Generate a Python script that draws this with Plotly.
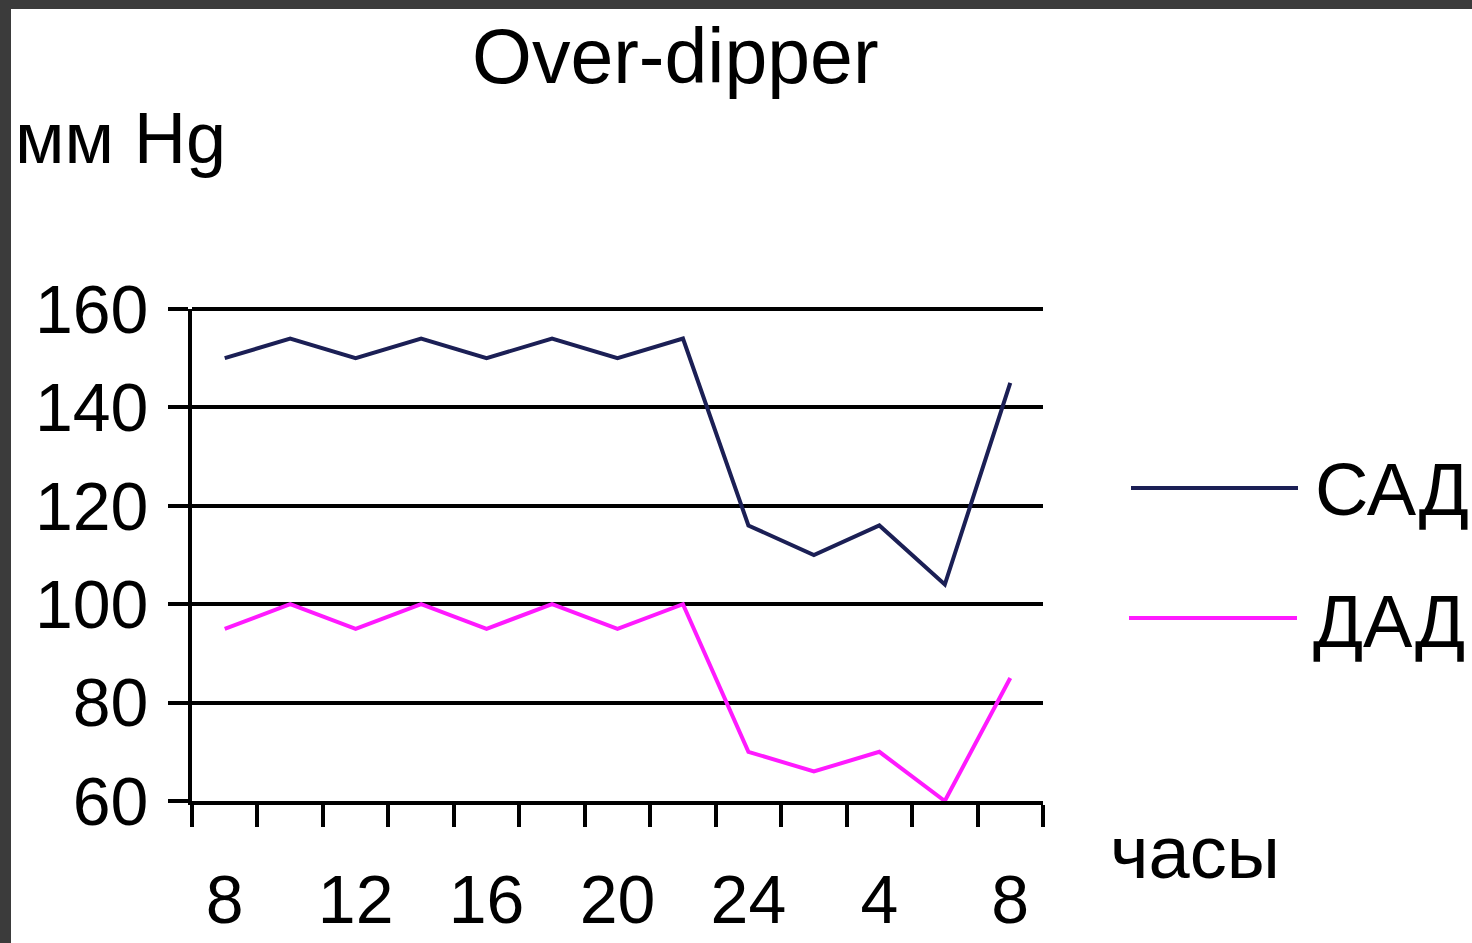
import plotly.graph_objects as go

# Hours of the day (two-hour steps, 8:00 to 8:00 next morning)
hours = [8, 10, 12, 14, 16, 18, 20, 22, 24, 2, 4, 6, 8]
# Systolic (САД) and diastolic (ДАД) blood pressure, mm Hg
sad = [150, 154, 150, 154, 150, 154, 150, 154, 116, 110, 116, 104, 145]
dad = [95, 100, 95, 100, 95, 100, 95, 100, 70, 66, 70, 60, 85]
y_ticks = [60, 80, 100, 120, 140, 160]

W, H = 1472, 943
L, R, T, B = 192, 1043, 309, 801  # plot area in pixels

def px(x):
    return (x - L) / (R - L)

def py(y):
    return (B - y) / (B - T)

idx = list(range(len(hours)))
SAD_COLOR = "#1b1f55"
DAD_COLOR = "#ff1aff"
FONT = "Liberation Sans, Arial, sans-serif"

fig = go.Figure()
fig.add_trace(go.Scatter(x=idx, y=sad, mode="lines", name="САД",
                         line=dict(color=SAD_COLOR, width=4)))
fig.add_trace(go.Scatter(x=idx, y=dad, mode="lines", name="ДАД",
                         line=dict(color=DAD_COLOR, width=4)))

shapes = [
    # dark frame strips
    dict(type="rect", xref="paper", yref="paper", x0=px(0), x1=px(11), y0=py(H), y1=py(0),
         fillcolor="#3b3b3b", line=dict(width=0), layer="above"),
    dict(type="rect", xref="paper", yref="paper", x0=px(0), x1=px(W), y0=py(9), y1=py(0),
         fillcolor="#3b3b3b", line=dict(width=0), layer="above"),
    # top gridline (upper end of the y range)
    dict(type="line", xref="paper", yref="paper", x0=0, x1=1, y0=1, y1=1,
         line=dict(color="black", width=4), layer="below"),
    # legend samples
    dict(type="line", xref="paper", yref="paper", x0=px(1131), x1=px(1298), y0=py(488), y1=py(488),
         line=dict(color=SAD_COLOR, width=4)),
    dict(type="line", xref="paper", yref="paper", x0=px(1129), x1=px(1297), y0=py(618), y1=py(618),
         line=dict(color=DAD_COLOR, width=4)),
]

annotations = [
    dict(text="Over-dipper", xref="paper", yref="paper", x=px(675), y=py(56),
         xanchor="center", yanchor="middle", showarrow=False,
         font=dict(family=FONT, size=77, color="black")),
    dict(text="мм Hg", xref="paper", yref="paper", x=px(13), y=py(138),
         xanchor="left", yanchor="middle", showarrow=False,
         font=dict(family=FONT, size=72, color="black")),
    dict(text="часы", xref="paper", yref="paper", x=px(1108), y=py(852),
         xanchor="left", yanchor="middle", showarrow=False,
         font=dict(family=FONT, size=74, color="black")),
    dict(text="САД", xref="paper", yref="paper", x=px(1313), y=py(489),
         xanchor="left", yanchor="middle", showarrow=False,
         font=dict(family=FONT, size=74, color="black")),
    dict(text="ДАД", xref="paper", yref="paper", x=px(1311), y=py(621),
         xanchor="left", yanchor="middle", showarrow=False,
         font=dict(family=FONT, size=74, color="black")),
]

label_idx = idx[::2]
fig.update_layout(
    width=W, height=H,
    margin=dict(l=L, r=W - R, t=T, b=H - B, pad=0, autoexpand=False),
    paper_bgcolor="white", plot_bgcolor="white",
    showlegend=False,
    shapes=shapes,
    annotations=annotations,
    font=dict(family=FONT, color="black"),
    xaxis=dict(
        range=[-0.5, len(hours) - 0.5],
        tickmode="array", tickvals=label_idx, ticktext=[str(hours[i]) for i in label_idx],
        ticks="", ticklabelstandoff=36, automargin=False,
        tickfont=dict(size=68, family=FONT, color="black"),
        showgrid=False, zeroline=False,
        showline=True, linecolor="black", linewidth=4,
        minor=dict(tickmode="linear", tick0=-0.5, dtick=1, ticks="outside",
                   ticklen=22, tickwidth=4, tickcolor="black", showgrid=False),
        fixedrange=True,
    ),
    yaxis=dict(
        range=[60, 160],
        tickmode="array", tickvals=y_ticks,
        ticks="outside", ticklen=20, tickwidth=4, tickcolor="black",
        ticklabelstandoff=6, automargin=False,
        tickfont=dict(size=68, family=FONT, color="black"),
        showgrid=True, gridcolor="black", gridwidth=4,
        zeroline=False,
        showline=True, linecolor="black", linewidth=4,
        fixedrange=True,
    ),
)

fig.write_html("out.html")
